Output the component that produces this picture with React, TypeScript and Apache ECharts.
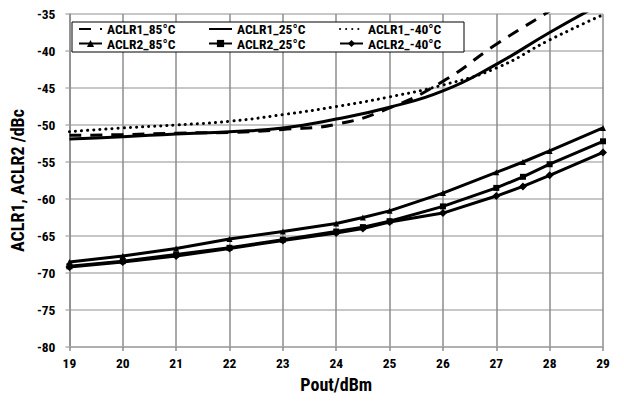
import React, { useEffect, useRef } from "react";
import * as echarts from "echarts";

const xCoarse = [19, 20, 21, 22, 23, 24, 25, 26, 27, 28, 29];
const aclr1_85 = [-51.4, -51.3, -51.1, -51.0, -50.6, -49.9, -47.7, -44.1, -39.1, -34.6, -30.0];
const aclr1_25 = [-51.9, -51.6, -51.2, -50.9, -50.4, -49.2, -47.6, -45.4, -41.8, -37.5, -33.5];
const aclr1_m40 = [-50.9, -50.4, -50.0, -49.5, -48.6, -47.5, -46.2, -44.6, -42.3, -38.5, -35.1];

const xFine = [19, 20, 21, 22, 23, 24, 24.5, 25, 26, 27, 27.5, 28, 29];
const aclr2_85 = [-68.5, -67.7, -66.7, -65.4, -64.4, -63.3, -62.5, -61.6, -59.2, -56.4, -55.0, -53.5, -50.4];
const aclr2_25 = [-69.1, -68.4, -67.5, -66.6, -65.5, -64.4, -63.8, -63.0, -61.0, -58.5, -57.0, -55.3, -52.2];
const aclr2_m40 = [-69.2, -68.5, -67.7, -66.7, -65.6, -64.6, -64.0, -63.1, -61.9, -59.6, -58.3, -56.8, -53.7];

const seriesNames = ["ACLR1_85°C", "ACLR1_25°C", "ACLR1_-40°C", "ACLR2_85°C", "ACLR2_25°C", "ACLR2_-40°C"];

const FONT = "'Roboto Condensed', 'Liberation Sans Narrow', 'DejaVu Sans Condensed', 'DejaVu Sans', sans-serif";

function pairs(xs: number[], ys: number[]) {
  return xs.map((x, i) => [x, ys[i]]);
}

export default function App() {
  const ref = useRef<HTMLDivElement>(null);
  useEffect(() => {
    if (!ref.current) return;
    const chart = echarts.init(ref.current, undefined, { renderer: "svg" });
    const legendText = { fontFamily: FONT, fontWeight: "bold" as const, fontSize: 13.5, lineHeight: 14, color: "#000" };
    const legendCommon = {
      orient: "vertical" as const,
      top: 17,
      itemWidth: 23,
      itemHeight: 9,
      itemGap: 0.5,
      textStyle: legendText,
      z: 10,
    };
    const hidden = { itemStyle: { opacity: 0 } };
    chart.setOption({
      animation: false,
      backgroundColor: "#fff",
      grid: { left: 67, right: 21, top: 14, bottom: 59 },
      legend: [
        { ...legendCommon, left: 73, data: [{ name: seriesNames[0], ...hidden }, seriesNames[3]] },
        { ...legendCommon, left: 203, data: [{ name: seriesNames[1], ...hidden }, seriesNames[4]] },
        { ...legendCommon, left: 334, data: [{ name: seriesNames[2], ...hidden }, seriesNames[5]] },
      ],
      graphic: [
        {
          type: "rect",
          z: 5,
          shape: { x: 72, y: 22, width: 392, height: 30 },
          style: { fill: "#fff", stroke: "#000", lineWidth: 1 },
        },
      ],
      xAxis: {
        type: "value",
        min: 19,
        max: 29,
        interval: 1,
        name: "Pout/dBm",
        nameLocation: "middle",
        nameGap: 28,
        nameTextStyle: { fontFamily: FONT, fontWeight: "bold", fontSize: 18, color: "#000" },
        axisLine: { lineStyle: { color: "#a8a8a8", width: 1.5 } },
        axisTick: { show: true, length: 4, lineStyle: { color: "#8c8c8c", width: 1.5 } },
        axisLabel: { fontFamily: FONT, fontWeight: "bold", fontSize: 13.5, color: "#000", margin: 9 },
        splitLine: { show: true, lineStyle: { color: "#8c8c8c", width: 1.5 } },
      },
      yAxis: {
        type: "value",
        min: -80,
        max: -35,
        interval: 5,
        name: "ACLR1, ACLR2 /dBc",
        nameLocation: "middle",
        nameGap: 38,
        nameRotate: 90,
        nameTextStyle: { fontFamily: FONT, fontWeight: "bold", fontSize: 18, color: "#000" },
        axisLine: { show: true, lineStyle: { color: "#8c8c8c", width: 1.5 } },
        axisTick: { show: true, length: 4, lineStyle: { color: "#b4b4b4", width: 1.5 } },
        axisLabel: { fontFamily: FONT, fontWeight: "bold", fontSize: 13.5, color: "#000", margin: 14 },
        splitLine: { show: true, lineStyle: { color: "#b4b4b4", width: 1.5 } },
      },
      series: [
        {
          name: seriesNames[0],
          type: "line",
          smooth: true,
          symbol: "none",
          clip: true,
          data: pairs(xCoarse, aclr1_85),
          lineStyle: { color: "#000", width: 3, type: [12, 9] },
          itemStyle: { color: "#000" },
        },
        {
          name: seriesNames[1],
          type: "line",
          smooth: true,
          symbol: "none",
          clip: true,
          data: pairs(xCoarse, aclr1_25),
          lineStyle: { color: "#000", width: 3, type: "solid" },
          itemStyle: { color: "#000" },
        },
        {
          name: seriesNames[2],
          type: "line",
          smooth: true,
          symbol: "none",
          clip: true,
          data: pairs(xCoarse, aclr1_m40),
          lineStyle: { color: "#000", width: 3, type: [0.1, 6], cap: "round" },
          itemStyle: { color: "#000" },
        },
        {
          name: seriesNames[3],
          type: "line",
          symbol: "triangle",
          symbolSize: 6,
          data: pairs(xFine, aclr2_85),
          lineStyle: { color: "#000", width: 3 },
          itemStyle: { color: "#000" },
        },
        {
          name: seriesNames[4],
          type: "line",
          symbol: "rect",
          symbolSize: 6,
          data: pairs(xFine, aclr2_25),
          lineStyle: { color: "#000", width: 3 },
          itemStyle: { color: "#000" },
        },
        {
          name: seriesNames[5],
          type: "line",
          symbol: "diamond",
          symbolSize: 8,
          data: pairs(xFine, aclr2_m40),
          lineStyle: { color: "#000", width: 3 },
          itemStyle: { color: "#000" },
        },
      ],
    });
    return () => chart.dispose();
  }, []);
  return (
    <div
      ref={ref}
      style={{ position: "fixed", left: 0, top: 0, width: 624, height: 406, background: "#fff" }}
    />
  );
}
